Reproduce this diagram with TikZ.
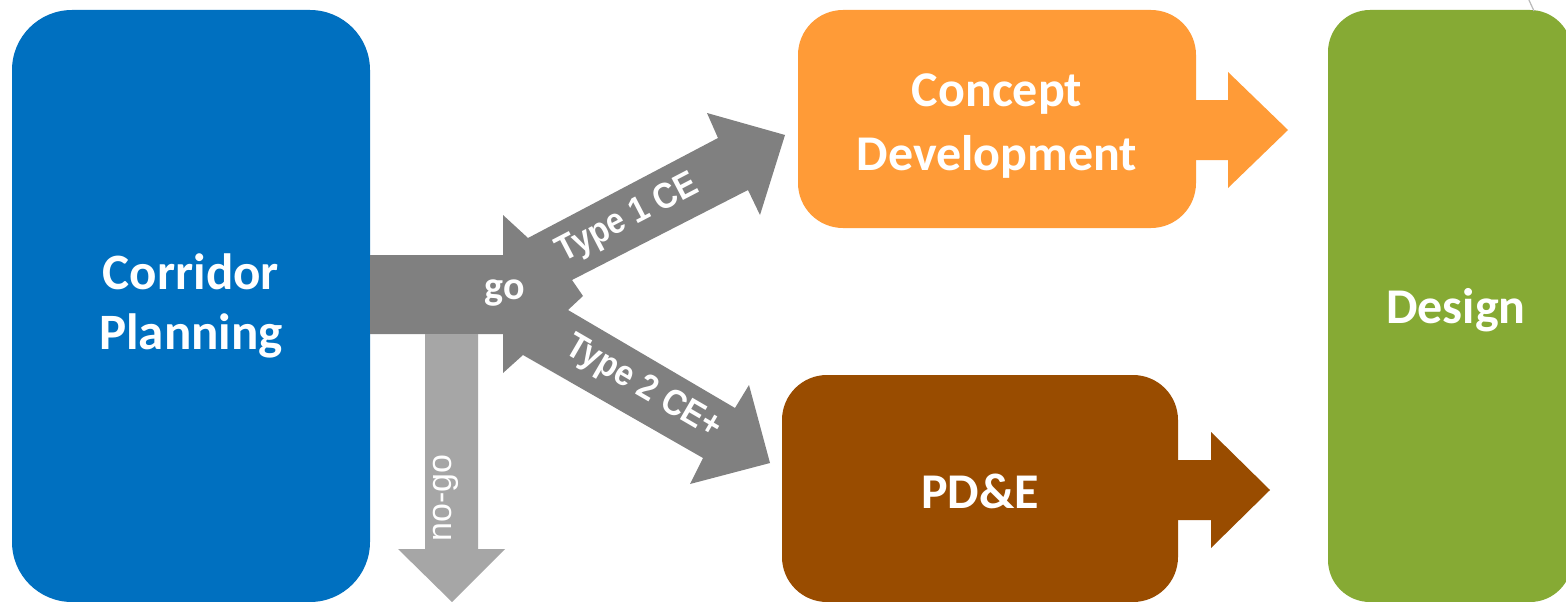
\documentclass[tikz,border=0pt]{standalone}
\usepackage{fontspec}
\newfontfamily\calfont{Carlito}
\newfontfamily\arialfont{Liberation Sans}
\newfontfamily\arialnarrowfont{Liberation Sans}[FakeStretch=0.9]
\definecolor{cpblue}{HTML}{0070C0}
\definecolor{cdorange}{HTML}{FF9B37}
\definecolor{pdbrown}{HTML}{994C00}
\definecolor{dsgreen}{HTML}{86AA34}
\definecolor{arrgray}{HTML}{808080}
\definecolor{nogray}{HTML}{A6A6A6}
\begin{document}
\begin{tikzpicture}[x=1pt,y=-1pt,
  stagebox/.style={rectangle, inner sep=0pt, text=white, align=center,
    font=\calfont\bfseries\fontsize{51}{60}\selectfont},
  boxlbl/.style={inner sep=0pt, text=white, align=center,
    font=\calfont\bfseries\fontsize{50}{64}\selectfont},
  golbl/.style={inner sep=0pt, text=white, font=\calfont\bfseries\fontsize{40}{44}\selectfont},
  typelbl/.style={inner sep=0pt, text=white, font=\arialnarrowfont\bfseries\fontsize{36}{38}\selectfont},
  nogolbl/.style={inner sep=0pt, text=white, font=\arialfont\fontsize{34}{36}\selectfont},
  bigarrow/.style={fill=arrgray, draw=none},
  noarrow/.style={fill=nogray, draw=none}]
\useasboundingbox (0,0) rectangle (1566,602);
\clip (0,0) rectangle (1566,602);
\fill[white] (0,0) rectangle (1566,602);

% stage boxes
\node[stagebox, fill=cpblue, rounded corners=60pt, minimum width=358pt, minimum height=592pt] (cp) at (191,306) {Corridor\\Planning};
\node[stagebox, fill=cdorange, rounded corners=45pt, minimum width=398pt, minimum height=218pt] (cd) at (997,119) {};
\node[boxlbl] (cdT) at (997,126) {Concept\\Development};
\node[stagebox, fill=pdbrown, rounded corners=45pt, minimum width=396pt, minimum height=227pt] (pd) at (980,488.5) {};
\node[boxlbl] (pdT) at (980,491) {PD\&E};
\node[stagebox, fill=dsgreen, rounded corners=42pt, minimum width=244pt, minimum height=592pt] (ds) at (1450,306) {};
\node[boxlbl] (dsT) at (1456,310) {Design};

% right arrows out of the boxes
\fill[fill=cdorange] (cd.east |- 0,100) -- (1228,100) -- (1228,72) -- (1288,130) -- (1228,188) -- (1228,160) -- (cd.east |- 0,160) -- cycle;
\fill[fill=pdbrown] (pd.east |- 0,460) -- (1211,460) -- (1211,432) -- (1270,490) -- (1211,548) -- (1211,520) -- (pd.east |- 0,520) -- cycle;

% go / split arrow
\fill[bigarrow] (cp.east |- 0,255) -- (503,255) -- (503,215) -- (528,238) -- (718,138) -- (707,113) -- (785,135)
  -- (760,215) -- (748,190) -- (572,280) -- (583,296) -- (568,310) -- (735,408) -- (749,385) -- (770,463)
  -- (690,484) -- (703,458) -- (523,355) -- (503,373) -- (503,334) -- (cp.east |- 0,334) -- cycle;

% no-go arrow
\fill[noarrow] (425,334) -- (478,334) -- (478,549) -- (505,549) -- (452,602) -- (398,549) -- (425,549) -- cycle;

\node[golbl] (go) at (505,293) {go};
\node[typelbl, rotate=27.5] (t1) at (628,219) {Type 1 CE};
\node[typelbl, rotate=-30.2] (t2) at (643,388) {Type 2 CE+};
\node[nogolbl, rotate=90] (ng) at (446,498) {no-go};

% thin line at top right
\coordinate (la) at (1528,-2);
\coordinate (lb) at (1534,11);
\draw[gray!55, line width=1.2pt] (la) .. controls (1531,4) .. (lb);
\end{tikzpicture}
\end{document}
